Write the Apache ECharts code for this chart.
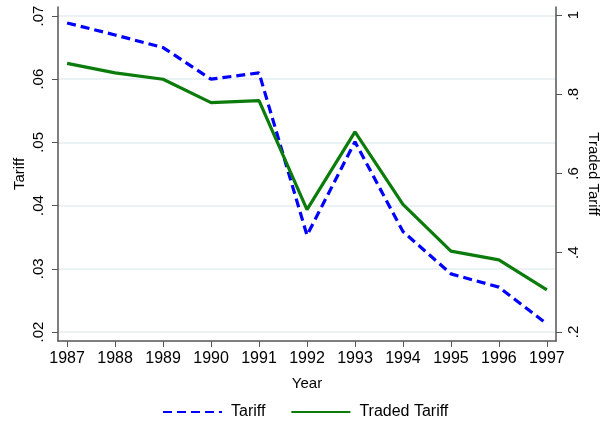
<!DOCTYPE html>
<html>
<head>
<meta charset="utf-8">
<script src="https://cdn.jsdelivr.net/npm/echarts@6/dist/echarts.min.js"></script>
<style>html,body{margin:0;padding:0;background:#fff}#c{width:600px;height:421px}</style>
</head>
<body>
<div id="c"></div>
<script>
const years = [1987, 1988, 1989, 1990, 1991, 1992, 1993, 1994, 1995, 1996, 1997];
const tariff = [0.0689, 0.067, 0.065, 0.060, 0.061, 0.0353, 0.0501, 0.0359, 0.0292, 0.0271, 0.0213];
const tradedTariff = [0.878, 0.854, 0.838, 0.779, 0.784, 0.509, 0.705, 0.522, 0.404, 0.382, 0.306];
const leftTicks = [0.02, 0.03, 0.04, 0.05, 0.06, 0.07];
const rightTicks = [0.2, 0.4, 0.6, 0.8, 1];

function fmt(v) {
  let s = String(Math.round(v * 1000) / 1000);
  if (s.startsWith('0.')) s = s.slice(1);
  return s;
}
const font = 'Liberation Sans, Arial, sans-serif';
const axisCol = '#555555';
const chart = echarts.init(document.getElementById('c'), null, {renderer: 'canvas'});
chart.setOption({
  animation: false,
  backgroundColor: '#ffffff',
  grid: {left: 58, right: 44, top: 7, bottom: 80, containLabel: false, outerBoundsMode: 'none'},
  legend: {
    top: 399, left: 157, itemWidth: 59, itemHeight: 16, itemGap: 25,
    itemStyle: {opacity: 0},
    textStyle: {fontFamily: font, fontSize: 16, color: '#000', padding: [0, 0, 0, 4]},
    data: ['Tariff', 'Traded Tariff']
  },
  xAxis: {
    type: 'value', min: 1986.81, max: 1997.19,
    name: 'Year', nameLocation: 'middle', nameGap: 35,
    nameTextStyle: {fontFamily: font, fontSize: 15, color: '#000'},
    axisLine: {show: true, lineStyle: {color: axisCol, width: 1.5}},
    axisTick: {show: true, length: 6, lineStyle: {color: axisCol}, customValues: years},
    axisLabel: {customValues: years, fontFamily: font, fontSize: 16, color: '#000', margin: 10, formatter: v => String(v)},
    splitLine: {show: false}
  },
  yAxis: [
    {
      type: 'value', position: 'left', min: 0.01858, max: 0.07142,
      name: 'Tariff', nameLocation: 'middle', nameGap: 38, nameRotate: 90, nameMoveOverlap: false,
      nameTextStyle: {fontFamily: font, fontSize: 15, color: '#000', verticalAlign: 'middle'},
      axisLine: {show: true, lineStyle: {color: axisCol, width: 1.5}},
      axisTick: {show: true, length: 6, lineStyle: {color: axisCol}, customValues: leftTicks},
      axisLabel: {customValues: leftTicks, rotate: 90, fontFamily: font, fontSize: 15, color: '#000', margin: 12, formatter: fmt},
      splitLine: {show: true, lineStyle: {color: '#e6eef1', width: 1.5}}
    },
    {
      type: 'value', position: 'right', min: 0.1772, max: 1.0203,
      name: 'Traded Tariff', nameLocation: 'middle', nameGap: 37, nameRotate: -90, nameMoveOverlap: false,
      nameTextStyle: {fontFamily: font, fontSize: 15, color: '#000', verticalAlign: 'middle'},
      axisLine: {show: true, lineStyle: {color: axisCol, width: 1.5}},
      axisTick: {show: true, length: 6, lineStyle: {color: axisCol}, customValues: rightTicks},
      axisLabel: {customValues: rightTicks, rotate: 90, fontFamily: font, fontSize: 15, color: '#000', margin: 10, formatter: fmt},
      splitLine: {show: false}
    }
  ],
  series: [
    {
      name: 'Tariff', type: 'line', yAxisIndex: 0, showSymbol: false, symbol: 'none',
      data: years.map((y, i) => [y, tariff[i]]),
      lineStyle: {color: '#0000ff', width: 3.2, type: [9, 5]},
      itemStyle: {color: '#0000ff'}
    },
    {
      name: 'Traded Tariff', type: 'line', yAxisIndex: 1, showSymbol: false, symbol: 'none',
      data: years.map((y, i) => [y, tradedTariff[i]]),
      lineStyle: {color: '#0b7b0b', width: 3.2},
      itemStyle: {color: '#0b7b0b'}
    }
  ]
});
</script>
</body>
</html>
